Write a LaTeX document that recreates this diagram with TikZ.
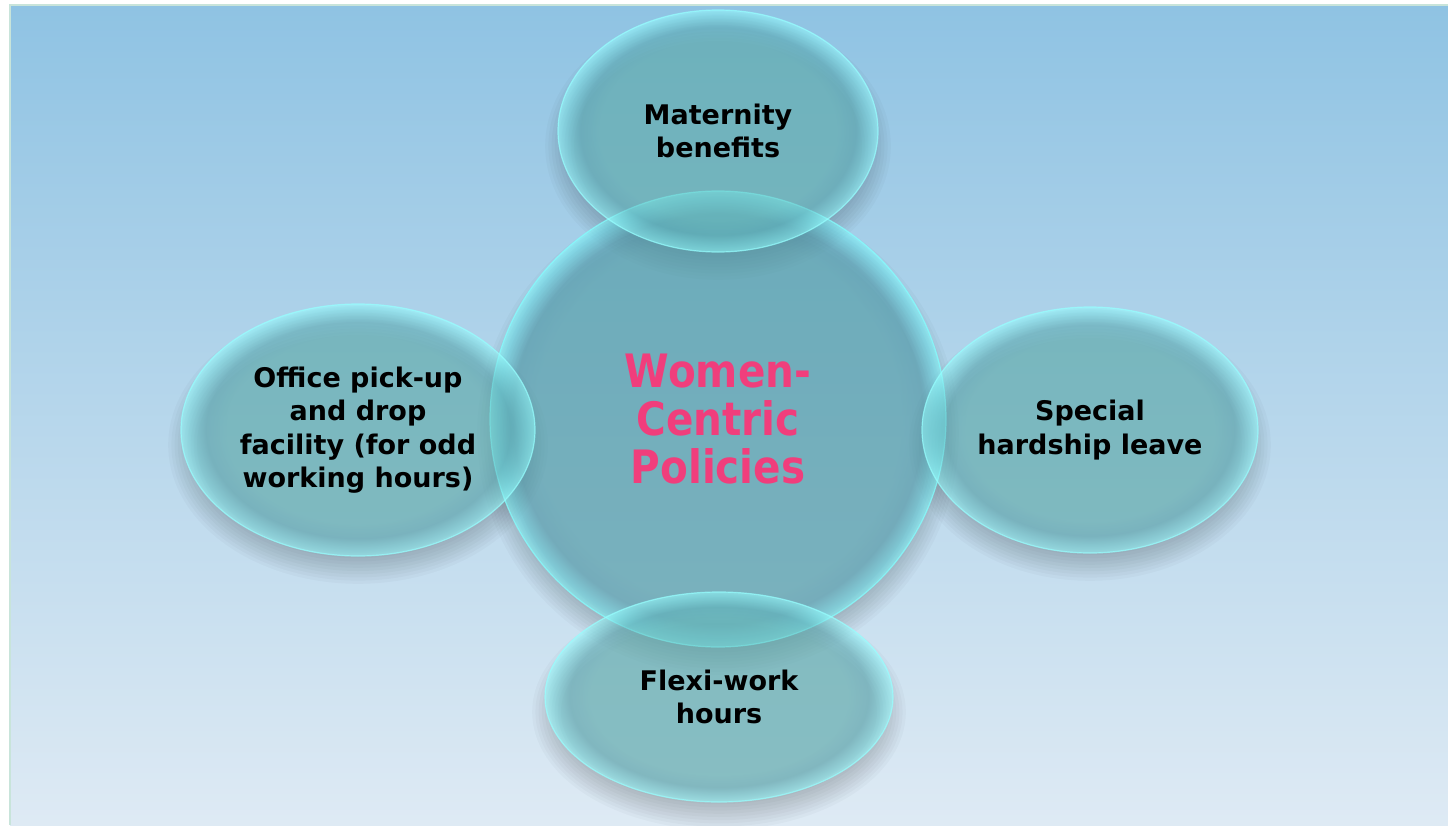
\documentclass[tikz,border=0pt]{standalone}
\usepackage{fontspec}
\setmainfont{DejaVu Sans}
\newfontfamily\titlefont{DejaVu Sans}[FakeStretch=0.88]
\usetikzlibrary{shapes.geometric}
\definecolor{bgtop}{RGB}{143,195,227}
\definecolor{bgbot}{RGB}{222,234,244}
\definecolor{framec}{RGB}{200,228,218}
\definecolor{titlepink}{RGB}{240,62,124}
\definecolor{ellin}{RGB}{110,200,200}
\definecolor{ellband}{RGB}{100,188,196}
\definecolor{ellmid}{RGB}{130,232,236}
\definecolor{ellrim}{RGB}{150,255,255}
\definecolor{cirin}{RGB}{95,183,194}
\definecolor{cirband}{RGB}{88,174,190}
\definecolor{cirmid}{RGB}{110,228,238}
\definecolor{cirrim}{RGB}{130,255,255}
\pgfdeclareradialshading{ellglass}{\pgfpoint{0bp}{0bp}}{color(0bp)=(ellin); color(18.5bp)=(ellin); color(21.5bp)=(ellband); color(23.8bp)=(ellmid); color(25bp)=(ellrim); color(50bp)=(ellrim)}
\pgfdeclareradialshading{cirglass}{\pgfpoint{0bp}{0bp}}{color(0bp)=(cirin); color(20bp)=(cirin); color(22.5bp)=(cirband); color(24.2bp)=(cirmid); color(25bp)=(cirrim); color(50bp)=(cirrim)}
\newcommand\glassshadow[4]{%
  \foreach \k in {0,...,9} {%
    \fill[black, opacity=0.022] (#1,#2+15) ellipse [x radius={#3-16+3.2*\k}, y radius={#4-16+3.2*\k}];
  }}
\begin{document}
\begin{tikzpicture}[x=1pt,y=-1pt,
  glassell/.style={ellipse, inner sep=0pt, shade, shading=ellglass,
    fill opacity=0.55, text opacity=1, draw=ellrim, draw opacity=0.7,
    line width=1.2pt, text=black, align=center,
    font=\fontsize{27}{33.5}\selectfont\bfseries},
  glasscirc/.style={circle, inner sep=0pt, shade, shading=cirglass,
    fill opacity=0.55, text opacity=1, draw=cirrim, draw opacity=0.7,
    line width=1.2pt, text=titlepink, align=center,
    font=\titlefont\bfseries\fontsize{46}{48}\selectfont}]
\useasboundingbox (0,0) rectangle (1448,825);
\fill[white] (0,0) rectangle (1448,825);
\shade[top color=bgtop, bottom color=bgbot] (10,5) rectangle (1448,825);
\draw[framec, line width=2pt] (10,825) -- (10,5) -- (1448,5);
% soft shadows
\glassshadow{718}{419}{228}{228}
\glassshadow{718}{131}{160}{121}
\glassshadow{358}{430}{177}{126}
\glassshadow{1090}{430}{168}{123}
\glassshadow{719}{697}{174}{105}
% shapes
\node[glasscirc, minimum size=456pt] (hub) at (718,419) {Women-\\Centric\\Policies};
\node[glassell, minimum width=320pt, minimum height=242pt] (mat) at (718,131) {Maternity\\benefits};
\node[glassell, minimum width=354pt, minimum height=252pt] (pick) at (358,430) {Office pick-up\\and drop\\facility (for odd\\working hours)};
\node[glassell, minimum width=336pt, minimum height=246pt] (hard) at (1090,430) {Special\\hardship leave};
\node[glassell, minimum width=348pt, minimum height=210pt] (flexi) at (719,697) {Flexi-work\\hours};
\end{tikzpicture}
\end{document}
